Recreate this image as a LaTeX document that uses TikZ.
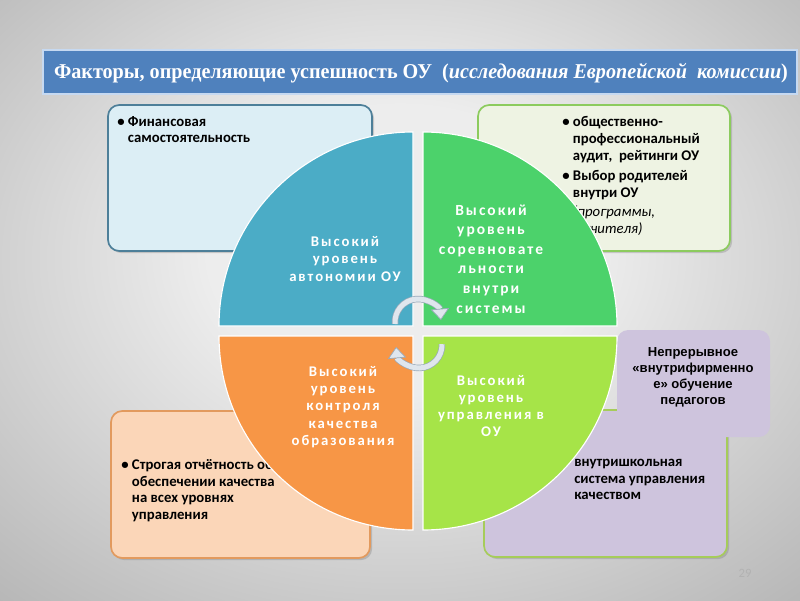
\documentclass[tikz,border=0pt]{standalone}
\usepackage{fontspec}
\setmainfont{Carlito}
\newfontfamily\titlefont{Liberation Serif}
\newfontfamily\quadfont[LetterSpace=13]{Carlito}
\newfontfamily\notefont{Liberation Sans}
\usetikzlibrary{arrows.meta,shadows}

\definecolor{slidelight}{HTML}{EDEDED}
\definecolor{slidedark}{HTML}{9C9C9C}
\definecolor{titleblue}{HTML}{4F81BD}
\definecolor{titleedge}{HTML}{C6D9F1}
\definecolor{finfill}{HTML}{DCEEF5}
\definecolor{finedge}{HTML}{4D7F99}
\definecolor{auditfill}{HTML}{EEF3E3}
\definecolor{auditedge}{HTML}{8CCB5E}
\definecolor{reportfill}{HTML}{FBD6B8}
\definecolor{reportedge}{HTML}{E29A5E}
\definecolor{qualfill}{HTML}{CEC4DD}
\definecolor{qualedge}{HTML}{A6CC5A}
\definecolor{autoquad}{HTML}{4BACC6}
\definecolor{compquad}{HTML}{4CD26B}
\definecolor{ctrlquad}{HTML}{F79646}
\definecolor{mgmtquad}{HTML}{A6E448}
\definecolor{cyclefill}{HTML}{DFE6ED}
\definecolor{cycleedge}{HTML}{9AAABA}

\pgfdeclareradialshading{slidebg}{\pgfpoint{0bp}{5bp}}{color(0bp)=(slidelight); color(12bp)=(slidelight); color(50bp)=(slidedark); color(75bp)=(slidedark!90!black)}

\tikzset{
  boxtext/.style={anchor=north west, align=left, inner sep=0pt,
    font=\bfseries\fontsize{10.5}{11.8}\selectfont},
  quadtext/.style={align=center, inner sep=0pt, text=white},
  quad/.style={draw=white, line width=0.8pt},
  cyclearrow/.style={draw=cycleedge, double=cyclefill, double distance=3.6pt,
    line width=0.5pt, -{Triangle[length=8pt,width=13pt,fill=cyclefill]}},
  factbox/.style={line width=1.2pt, rounded corners=8pt,
    drop shadow={shadow xshift=1.5pt, shadow yshift=-1.5pt, opacity=0.35}}
}

\begin{document}
\begin{tikzpicture}[x=0.025cm, y=0.025cm]
  \shade[shading=slidebg] (0,0) rectangle (800,600);
  \useasboundingbox (0,0) rectangle (800,600);

  \draw[titleedge, line width=1.5pt, fill=titleblue] (43,506) rectangle (797,550);
  \node[text=white, transform shape, xscale=0.955,
    font=\titlefont\bfseries\fontsize{15}{18}\selectfont] (title) at (421,527)
    {Факторы, определяющие успешность ОУ\ \ (\textit{исследования Европейской\ \ комиссии})};

  \draw[factbox, finedge, fill=finfill] (108,349) rectangle (372,495);
  \draw[factbox, auditedge, fill=auditfill] (478,349) rectangle (730,495);
  \draw[factbox, reportedge, fill=reportfill] (111,42) rectangle (370,189);
  \draw[factbox, qualedge, fill=qualfill] (484,43) rectangle (727,190);
  \fill[qualfill, rounded corners=8pt] (617,163) rectangle (770,270);

  \node[boxtext] (finance) at (117,484)
    {\textbullet\ Финансовая\\ \phantom{\textbullet\ }самостоятельность};
  \node[boxtext, font=\bfseries\fontsize{10.5}{12}\selectfont] (audit) at (562,484)
    {\textbullet\ общественно-\\ \phantom{\textbullet\ }профессиональный\\
     \phantom{\textbullet\ }аудит,\ \ рейтинги ОУ\\[2.5pt]
     \textbullet\ Выбор родителей\\ \phantom{\textbullet\ }внутри ОУ\\[1.5pt]
     \phantom{\textbullet\ }{\mdseries\itshape (программы,}\\
     \phantom{\textbullet\ }{\mdseries\itshape и учителя)}};
  \node[boxtext] (report) at (121,141)
    {\textbullet\ Строгая отчётность об\\ \phantom{\textbullet\ }обеспечении качества\\
     \phantom{\textbullet\ }на всех уровнях\\ \phantom{\textbullet\ }управления};
  \node[boxtext] (quality) at (574,141)
    {внутришкольная\\ система управления\\ качеством};
  \node[anchor=north, align=center, inner sep=0pt,
    font=\notefont\bfseries\fontsize{9.3}{11.5}\selectfont] (training) at (693,253)
    {Непрерывное\\ «внутрифирменно\\ е» обучение\\ педагогов};

  \filldraw[quad, fill=autoquad] (413,274) -- (219,274) arc[start angle=180, end angle=90, radius=194] -- cycle;
  \filldraw[quad, fill=compquad] (423,274) -- (423,468) arc[start angle=90, end angle=0, radius=194] -- cycle;
  \filldraw[quad, fill=ctrlquad] (413,264) -- (219,264) arc[start angle=180, end angle=270, radius=194] -- cycle;
  \filldraw[quad, fill=mgmtquad] (423,264) -- (617,264) arc[start angle=0, end angle=-90, radius=194] -- cycle;

  \draw[cyclearrow] (418,278) ++(185:23) arc[start angle=185, end angle=5, radius=23];
  \draw[cyclearrow] (419,255) ++(2:23) arc[start angle=2, end angle=-175, radius=23];

  \node[quadtext, font=\quadfont\bfseries\fontsize{10.5}{12.3}\selectfont] (autonomy) at (345,341)
    {Высокий\\ уровень\\ автономии ОУ};
  \node[quadtext, font=\quadfont\bfseries\fontsize{11}{13.9}\selectfont] (competition) at (491,341)
    {Высокий\\ уровень\\ соревновате\\ льности\\ внутри\\ системы};
  \node[quadtext, font=\quadfont\bfseries\fontsize{10.5}{12.3}\selectfont] (control) at (343,193)
    {Высокий\\ уровень\\ контроля\\ качества\\ образования};
  \node[quadtext, font=\quadfont\bfseries\fontsize{10.5}{12.3}\selectfont] (management) at (491,194)
    {Высокий\\ уровень\\ управления в\\ ОУ};

  \node[text=gray!60, font=\fontsize{9}{9}\selectfont] (pagenum) at (745,27) {29};
\end{tikzpicture}
\end{document}
